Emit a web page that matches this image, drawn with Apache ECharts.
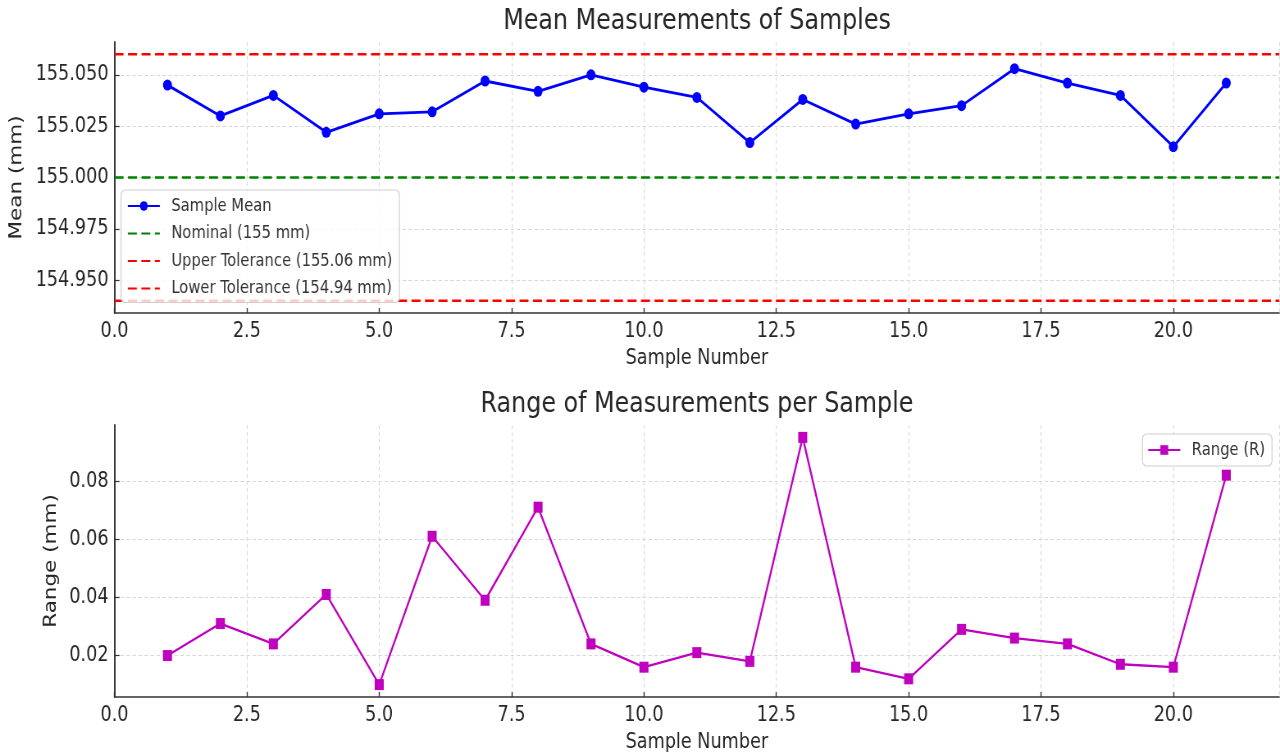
<!DOCTYPE html>
<html>
<head>
<meta charset="utf-8">
<script src="https://cdn.jsdelivr.net/npm/echarts@6/dist/echarts.min.js"></script>
<style>
  html, body { margin: 0; padding: 0; background: #fff; overflow: hidden; }
  #wrap { width: 1280px; height: 754px; overflow: hidden; }
  /* the reference figure is squeezed horizontally, so draw wider and squeeze */
  #chart { width: 1561px; height: 754px; transform: scaleX(0.82); transform-origin: 0 0; }
</style>
</head>
<body>
<div id="wrap"><div id="chart"></div></div>
<script>
// sample numbers 1..21
const samples = [1, 2, 3, 4, 5, 6, 7, 8, 9, 10, 11, 12, 13, 14, 15, 16, 17, 18, 19, 20, 21]
const means = [155.045, 155.030, 155.040, 155.022, 155.031, 155.032, 155.047, 155.042, 155.050, 155.044,
  155.039, 155.017, 155.038, 155.026, 155.031, 155.035, 155.053, 155.046, 155.040, 155.015, 155.046]
const ranges = [0.020, 0.031, 0.024, 0.041, 0.010, 0.061, 0.039, 0.071, 0.024, 0.016,
  0.021, 0.018, 0.095, 0.016, 0.012, 0.029, 0.026, 0.024, 0.017, 0.016, 0.082]
const nominal = 155
const upperTol = 155.06
const lowerTol = 154.94
const xRange = [0, 22]
const meanTicks = [154.95, 154.975, 155.0, 155.025, 155.05]
const rangeTicks = [0.02, 0.04, 0.06, 0.08]

const K = 0.82
const X = (px) => px / K // outer px -> inner px (horizontal only)

const FONT = "'DejaVu Sans', sans-serif"
const TXT = '#262626'
const GRIDLINE = { color: '#d2d2d2', type: [4, 3], width: 0.9 }

const pts = (ys) => samples.map((x, i) => [x, ys[i]])
const hline = (v) => xRange.map(x => [x, v])

function xAxisCfg (gridIndex) {
  return {
    type: 'value',
    gridIndex: gridIndex,
    min: xRange[0],
    max: xRange[1],
    interval: 2.5,
    name: 'Sample Number',
    nameLocation: 'middle',
    nameGap: 34,
    nameTextStyle: { fontFamily: FONT, fontSize: 21.5, color: TXT },
    axisLine: { show: true, lineStyle: { color: '#333', width: 1.6 } },
    axisTick: { show: true, inside: true, length: 5, lineStyle: { color: '#333', width: 1.4 } },
    axisLabel: {
      fontFamily: FONT, fontSize: 21.5, color: TXT, margin: 7,
      formatter: (v) => v.toFixed(1),
      showMaxLabel: false
    },
    splitLine: { show: true, lineStyle: GRIDLINE }
  }
}

function yAxisCfg (gridIndex, name, gap, min, max, ticks, digits) {
  return {
    type: 'value', gridIndex: gridIndex,
    min: min, max: max,
    name: name, nameLocation: 'middle', nameGap: gap,
    nameTextStyle: { fontFamily: FONT, fontSize: 21.5, color: TXT },
    axisLine: { show: true, lineStyle: { color: '#333', width: 1.9 } },
    axisTick: { show: true, inside: true, length: X(5), lineStyle: { color: '#333', width: 1.2 },
      customValues: ticks },
    axisLabel: {
      fontFamily: FONT, fontSize: 21.5, color: TXT, margin: X(6),
      customValues: ticks,
      formatter: (v) => v.toFixed(digits)
    },
    splitLine: { show: true, lineStyle: { color: '#d2d2d2', type: [X(3.5), X(2.5)], width: 0.9 } }
  }
}

const legendText = { fontFamily: FONT, fontSize: 18, lineHeight: 18, color: '#333', padding: [0, 0, 0, 9] }
const noSymbol = { opacity: 0 }

const chart = echarts.init(document.getElementById('chart'))
chart.setOption({
  animation: false,
  backgroundColor: '#fff',
  title: [
    {
      text: 'Mean Measurements of Samples',
      left: X(697), top: 7, textAlign: 'center', padding: 0,
      textStyle: { fontFamily: FONT, fontSize: 29, fontWeight: 'normal', color: TXT }
    },
    {
      text: 'Range of Measurements per Sample',
      left: X(697), top: 390, textAlign: 'center', padding: 0,
      textStyle: { fontFamily: FONT, fontSize: 29, fontWeight: 'normal', color: TXT }
    }
  ],
  legend: [
    {
      data: [
        'Sample Mean',
        { name: 'Nominal (155 mm)', itemStyle: noSymbol },
        { name: 'Upper Tolerance (155.06 mm)', itemStyle: noSymbol },
        { name: 'Lower Tolerance (154.94 mm)', itemStyle: noSymbol }
      ],
      orient: 'vertical',
      left: X(121), top: 190,
      itemWidth: X(32), itemHeight: 12, itemGap: 9.5,
      padding: [7, X(7), 5, X(6)],
      backgroundColor: 'rgba(255,255,255,0.8)',
      borderColor: '#d0d0d0', borderWidth: 1.2, borderRadius: 5,
      textStyle: legendText
    },
    {
      data: ['Range (R)'],
      right: 1561 - X(1272), top: 434,
      itemWidth: X(32), itemHeight: 12,
      padding: [7, X(7), 7, X(5)],
      backgroundColor: 'rgba(255,255,255,0.8)',
      borderColor: '#d0d0d0', borderWidth: 1.2, borderRadius: 5,
      textStyle: legendText
    }
  ],
  grid: [
    { left: X(114.5), right: 1, top: 42, height: 271 },
    { left: X(114.5), right: 1, top: 425, height: 272 }
  ],
  xAxis: [xAxisCfg(0), xAxisCfg(1)],
  yAxis: [
    yAxisCfg(0, 'Mean (mm)', 108, 154.934, 155.066, meanTicks, 3),
    yAxisCfg(1, 'Range (mm)', 63, 0.00575, 0.09925, rangeTicks, 2)
  ],
  series: [
    {
      name: 'Nominal (155 mm)', type: 'line', xAxisIndex: 0, yAxisIndex: 0,
      data: hline(nominal), symbol: 'none', silent: true,
      lineStyle: { color: '#008000', width: 2.6, type: [X(9), X(4.5)] },
      itemStyle: { color: '#008000' }
    },
    {
      name: 'Upper Tolerance (155.06 mm)', type: 'line', xAxisIndex: 0, yAxisIndex: 0,
      data: hline(upperTol), symbol: 'none', silent: true,
      lineStyle: { color: '#ff0000', width: 2.6, type: [X(9), X(4.5)] },
      itemStyle: { color: '#ff0000' }
    },
    {
      name: 'Lower Tolerance (154.94 mm)', type: 'line', xAxisIndex: 0, yAxisIndex: 0,
      data: hline(lowerTol), symbol: 'none', silent: true,
      lineStyle: { color: '#ff0000', width: 2.6, type: [X(9), X(4.5)] },
      itemStyle: { color: '#ff0000' }
    },
    {
      name: 'Sample Mean', type: 'line', xAxisIndex: 0, yAxisIndex: 0,
      data: pts(means), symbol: 'circle', symbolSize: 11, z: 5,
      lineStyle: { color: '#0000ff', width: 2.8 },
      itemStyle: { color: '#0000ff' }
    },
    {
      name: 'Range (R)', type: 'line', xAxisIndex: 1, yAxisIndex: 1,
      data: pts(ranges), symbol: 'rect', symbolSize: 11,
      lineStyle: { color: '#bf00bf', width: 2.3 },
      itemStyle: { color: '#bf00bf' }
    }
  ]
})
</script>
</body>
</html>
